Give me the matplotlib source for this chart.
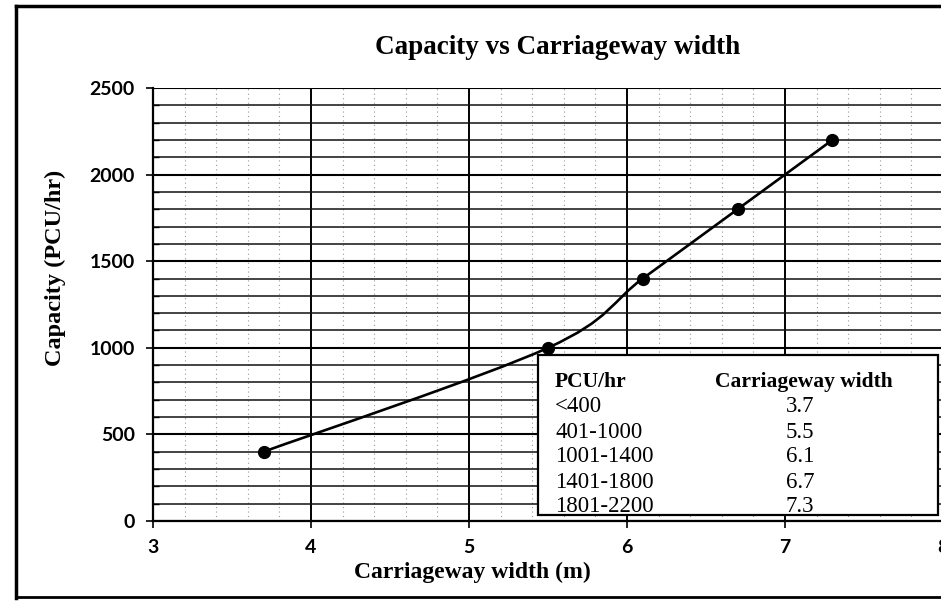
import numpy as np
import matplotlib
matplotlib.use("Agg")
import matplotlib.pyplot as plt
from matplotlib.path import Path
from matplotlib.patches import PathPatch, Rectangle
from matplotlib.lines import Line2D
from matplotlib.ticker import MultipleLocator

# ---- data ----
widths_m = [3.7, 5.5, 6.1, 6.7, 7.3]
capacity = [400, 1000, 1400, 1800, 2200]
table_pcu = ["<400", "401-1000", "1001-1400", "1401-1800", "1801-2200"]
table_width = ["3.7", "5.5", "6.1", "6.7", "7.3"]
x_ticks = [3, 4, 5, 6, 7, 8]
y_ticks = [0, 500, 1000, 1500, 2000, 2500]

W, H = 941, 602
fig = plt.figure(figsize=(W / 100, H / 100), dpi=100)
fig.patch.set_facecolor("white")


def fx(x):
    return x / W


def fy(y):
    return 1 - y / H


SERIF = "Liberation Serif"
SANS = "Lato"

# axes: x=3 at px 153, x=8 at px 943; y=0 at px 521, y=2500 at px 88
x0, x1 = 153, 943
y0, y1 = 521, 88
ax = fig.add_axes([fx(x0), fy(y0), (x1 - x0) / W, (y0 - y1) / H])
ax.set_xlim(3, 8)
ax.set_ylim(0, 2500)
ax.set_xticks(x_ticks)
ax.set_yticks(y_ticks)
ax.xaxis.set_minor_locator(MultipleLocator(0.2))
ax.yaxis.set_minor_locator(MultipleLocator(100))

# grid
ax.grid(which="major", axis="y", color="black", lw=1.5)
ax.grid(which="minor", axis="y", color="#111111", lw=1.1)
ax.grid(which="major", axis="x", color="black", lw=1.4)
ax.grid(which="minor", axis="x", color="#999999", lw=0.8, ls=(0, (1, 3)))
ax.set_axisbelow(True)

for s in ["top", "right"]:
    ax.spines[s].set_visible(False)
for s in ["left", "bottom"]:
    ax.spines[s].set_color("black")
    ax.spines[s].set_linewidth(1.6)

ax.tick_params(axis="both", which="major", direction="out", length=5, width=1.2,
               colors="black", labelsize=14)
ax.tick_params(axis="x", which="major", pad=8)
ax.tick_params(axis="y", which="major", pad=8)
ax.tick_params(axis="x", which="minor", length=0)
ax.tick_params(axis="y", which="minor", direction="in", length=4, width=1)
for lab in ax.get_xticklabels() + ax.get_yticklabels():
    lab.set_fontfamily(SANS)
    lab.set_fontweight("bold")

# smoothed line (Catmull-Rom -> cubic Bezier)
P = np.column_stack([widths_m, capacity]).astype(float)
n = len(P)
verts = [P[0]]
codes = [Path.MOVETO]
for i in range(n - 1):
    p0 = P[max(i - 1, 0)]
    p1 = P[i]
    p2 = P[i + 1]
    p3 = P[min(i + 2, n - 1)]
    c1 = p1 + (p2 - p0) / 6.0
    c2 = p2 - (p3 - p1) / 6.0
    verts += [c1, c2, p2]
    codes += [Path.CURVE4] * 3
ax.add_patch(PathPatch(Path(verts, codes), fill=False, edgecolor="black",
                       lw=1.9, zorder=3, clip_on=False))
ax.plot(widths_m, capacity, ls="none", marker="o", ms=8.5, color="black", zorder=4,
        clip_on=False)

# title and axis labels
fig.text(fx(558), fy(47), "Capacity vs Carriageway width", ha="center", va="center",
         fontfamily=SERIF, fontweight="bold", fontsize=19.5)
fig.text(fx(472), fy(572), "Carriageway width (m)", ha="center", va="center",
         fontfamily=SERIF, fontweight="bold", fontsize=17)
fig.text(fx(55), fy(268), "Capacity (PCU/hr)", ha="center", va="center",
         rotation=90, fontfamily=SERIF, fontweight="bold", fontsize=17.5)

# inset table
fig.add_artist(Rectangle((fx(538), fy(515)), (938 - 538) / W, (515 - 355) / H,
                         transform=fig.transFigure, facecolor="white",
                         edgecolor="black", lw=1.6, zorder=5))
fig.text(fx(555), fy(382), "PCU/hr", ha="left", va="center", fontfamily=SERIF,
         fontweight="bold", fontsize=15.5, zorder=6)
fig.text(fx(715), fy(382), "Carriageway width", ha="left", va="center",
         fontfamily=SERIF, fontweight="bold", fontsize=15.5, zorder=6)
for i, (p, w) in enumerate(zip(table_pcu, table_width)):
    yy = 407 + 25 * i
    fig.text(fx(555), fy(yy), p, ha="left", va="center", fontfamily=SERIF,
             fontsize=16.5, zorder=6)
    fig.text(fx(800), fy(yy), w, ha="center", va="center", fontfamily=SERIF,
             fontsize=16.5, zorder=6)

# outer chart frame
fig.add_artist(Line2D([fx(16), fx(16)], [fy(6), fy(598)], color="black", lw=2.5,
                      transform=fig.transFigure))
fig.add_artist(Line2D([fx(16), fx(941)], [fy(6), fy(6)], color="black", lw=2.5,
                      transform=fig.transFigure))
fig.add_artist(Line2D([fx(16), fx(941)], [fy(597), fy(597)], color="black", lw=2,
                      transform=fig.transFigure))

fig.savefig("out.png", dpi=100, facecolor="white")
